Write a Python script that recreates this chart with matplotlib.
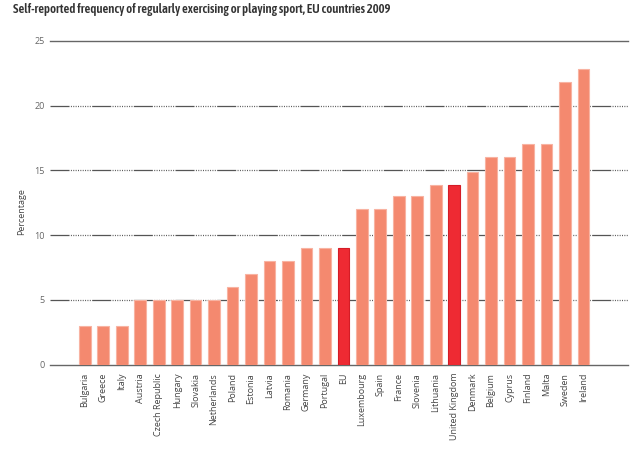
import matplotlib
matplotlib.use("Agg")
import matplotlib.pyplot as plt

# values
countries = [
    "Bulgaria", "Greece", "Italy", "Austria", "Czech Republic", "Hungary",
    "Slovakia", "Netherlands", "Poland", "Estonia", "Latvia", "Romania",
    "Germany", "Portugal", "EU", "Luxembourg", "Spain", "France", "Slovenia",
    "Lithuania", "United Kingdom", "Denmark", "Belgium", "Cyprus", "Finland",
    "Malta", "Sweden", "Ireland",
]
percentages = [
    3, 3, 3, 5, 5, 5,
    5, 5, 6, 7, 8, 8,
    9, 9, 9, 12, 12, 13, 13,
    13.9, 13.9, 14.9, 16, 16, 17,
    17, 21.8, 22.8,
]
highlighted = ["EU", "United Kingdom"]
y_ticks = [0, 5, 10, 15, 20, 25]

title = "Self-reported frequency of regularly exercising or playing sport, EU countries 2009"

BAR = "#f4896f"
BAR_EDGE = "#f8b3a2"
HI = "#ee2a33"
HI_EDGE = "#d41c26"
TEXT = "#444444"
LABEL_FONT = ["Open Sans", "DejaVu Sans"]
TITLE_FONT = ["Asap Condensed", "DejaVu Sans"]

plt.rcParams["lines.scale_dashes"] = False

fig = plt.figure(figsize=(6.4, 4.57), dpi=100)
ax = fig.add_axes([0.078, 0.2024, 0.904, 0.708])

# solid stretch followed by a run of fine dots, like the original grid
dash = [13.7, 1.0] + [0.7, 1.0] * 9
for v in y_ticks:
    if v in (y_ticks[0], y_ticks[-1]):
        ax.axhline(v, color="#666666", linewidth=1.0, zorder=1, clip_on=False)
    else:
        ax.axhline(v, color="#555555", linewidth=0.9,
                   linestyle=(0, dash), zorder=1)

x = list(range(len(countries)))
colors = [HI if c in highlighted else BAR for c in countries]
edges = [HI_EDGE if c in highlighted else BAR_EDGE for c in countries]
ax.bar(x, percentages, width=0.63, color=colors, edgecolor=edges,
       linewidth=0.8, zorder=2)

ax.set_xlim(-1.89, 29.44)
ax.set_ylim(0, 25)
ax.set_yticks(y_ticks)
ax.set_xticks(x)
ax.set_xticklabels(countries, rotation=90, fontsize=6.5, color=TEXT,
                   family=LABEL_FONT)
ax.tick_params(axis="x", length=0, pad=6)
ax.tick_params(axis="y", length=0, pad=3.6, labelsize=6.5, labelcolor="#666666")
for lab in ax.get_yticklabels():
    lab.set_family(LABEL_FONT)

for s in ax.spines.values():
    s.set_visible(False)

fig.text(22 / 640, 1 - 212 / 457, "Percentage", rotation=90, fontsize=6.5,
         color=TEXT, ha="center", va="center", family=LABEL_FONT)

fig.text(13 / 640, 1 - 3 / 457, title, fontsize=9.2, fontweight="semibold",
         color="#333333", ha="left", va="top", family=TITLE_FONT)

fig.savefig("out.png", dpi=100)
